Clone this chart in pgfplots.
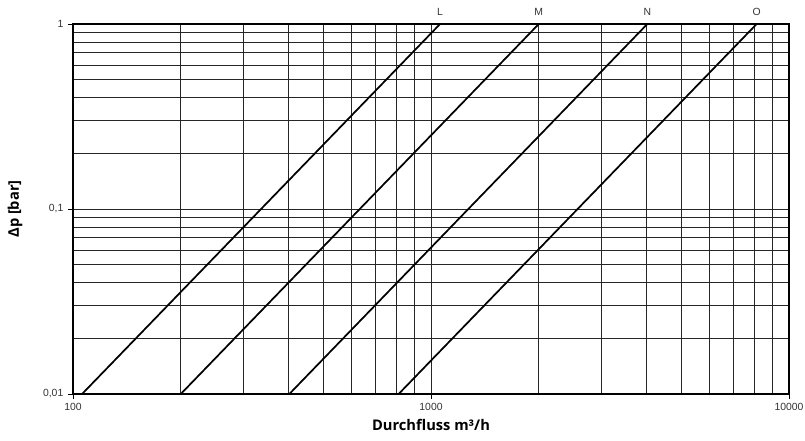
\documentclass[border=0pt]{standalone}
\usepackage{fontspec}
\setmainfont{Liberation Sans}
\newfontfamily\labelfont{Open Sans}
\usepackage{pgfplots}
\pgfplotsset{compat=1.18}

\begin{document}
\begin{tikzpicture}
% fixed page: 805 x 440 px at 0.75pt/px, axis box lower left at origin
\path[use as bounding box] (-54.75pt,-34.5pt) rectangle (549pt,295.5pt);
\begin{axis}[
    xmode=log, ymode=log,
    scale only axis,
    width=537pt, height=277.5pt,
    xmin=100, xmax=10000,
    ymin=0.01, ymax=1,
    log ticks with fixed point,
    /pgf/number format/use comma,
    /pgf/number format/1000 sep={},
    /pgf/number format/assume math mode=true,
    xtick={100,1000,10000},
    ytick={0.01,0.1,1},
    grid=both,
    major grid style={black!85, line width=0.6pt},
    minor grid style={black!85, line width=0.6pt},
    axis line style={black, line width=0.8pt},
    tick align=outside,
    xtick pos=bottom, ytick pos=left,
    major tick length=3.75pt,
    minor tick length=0pt,
    tick style={black, line width=0.6pt},
    tick label style={font=\fontsize{7.8}{9}\selectfont, text=black!80},
    every axis x label/.style={at={(axis description cs:0.5,0)}, anchor=center, yshift=-23.25pt},
    every axis y label/.style={at={(axis description cs:-0.081,0.5)}, rotate=90, anchor=center},
    label style={font=\labelfont\bfseries\fontsize{11}{13}\selectfont},
    xlabel={Durchfluss m³/h},
    ylabel={Δp [bar]},
    clip=false,
]
\addplot[black, line width=1.3pt] coordinates {(106,0.01) (1060,1)};
\addplot[black, line width=1.3pt] coordinates {(200,0.01) (2000,1)};
\addplot[black, line width=1.3pt] coordinates {(402,0.01) (4020,1)};
\addplot[black, line width=1.3pt] coordinates {(812,0.01) (8120,1)};
\node[font=\fontsize{7.8}{9}\selectfont, text=black!80] at (axis cs:1060,1) [yshift=9pt] {L};
\node[font=\fontsize{7.8}{9}\selectfont, text=black!80] at (axis cs:2000,1) [yshift=9pt] {M};
\node[font=\fontsize{7.8}{9}\selectfont, text=black!80] at (axis cs:4020,1) [yshift=9pt] {N};
\node[font=\fontsize{7.8}{9}\selectfont, text=black!80] at (axis cs:8120,1) [yshift=9pt] {O};
\end{axis}
\end{tikzpicture}
\end{document}
